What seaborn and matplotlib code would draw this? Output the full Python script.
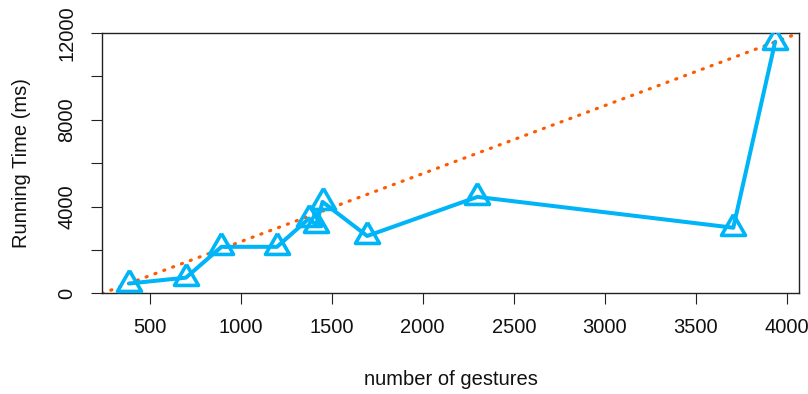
import matplotlib
matplotlib.use("Agg")
import matplotlib.pyplot as plt
import seaborn as sns
import pandas as pd

# Measured running time per gesture-set size
gestures = [389, 700, 895, 1200, 1375, 1415, 1450, 1695, 2300, 3705, 3935]
running_ms = [460, 730, 2150, 2150, 3450, 3150, 4220, 2650, 4450, 3030, 11600]

# Linear reference line spanning the plotted range
guide_x = [239, 4066]
guide_y = [0, 12000]

x_ticks = [500, 1000, 1500, 2000, 2500, 3000, 3500, 4000]
y_ticks = [0, 2000, 4000, 6000, 8000, 10000, 12000]
y_tick_labels = ["0", "", "4000", "", "8000", "", "12000"]

sns.set_theme(style="white")
plt.rcParams["font.family"] = ["Liberation Sans", "DejaVu Sans"]

df = pd.DataFrame({"gestures": gestures, "running_ms": running_ms})
guide = pd.DataFrame({"x": guide_x, "y": guide_y})

fig = plt.figure(figsize=(8.08, 3.94), dpi=100)
ax = fig.add_axes([0.1262, 0.2551, 0.8627, 0.6611])

# equilateral open triangle centred on its circumcentre
tri = [(0, 1), (0.866, -0.5), (-0.866, -0.5), (0, 1)]

sns.lineplot(data=guide, x="x", y="y", ax=ax, color="#ff5a00", lw=2.3,
             linestyle=(0, (0.35, 2.6)), dash_capstyle="round", zorder=2)
sns.lineplot(data=df, x="gestures", y="running_ms", ax=ax, color="#00b4f8",
             lw=2.9, marker=tri, markersize=20, markerfacecolor="none",
             markeredgecolor="#00b4f8", markeredgewidth=2.6, zorder=3,
             estimator=None, sort=False)

ax.set_xlim(guide_x[0], guide_x[1])
ax.set_ylim(guide_y[0], guide_y[1])
ax.set_xticks(x_ticks)
ax.set_xticklabels([str(v) for v in x_ticks])
ax.set_yticks(y_ticks)
ax.set_yticklabels(y_tick_labels, rotation=90, va="center")

for s in ax.spines.values():
    s.set_visible(True)
    s.set_color("#222222")
    s.set_linewidth(1.0)

ax.tick_params(axis="both", direction="out", length=8, width=0.8,
               color="#222222", labelsize=14.5, labelcolor="#111111")
ax.tick_params(axis="x", pad=9.5, bottom=True)
ax.tick_params(axis="y", pad=10.5, left=True)

ax.set_xlabel("number of gestures", fontsize=14.5, color="#111111")
ax.set_ylabel("Running Time (ms)", fontsize=14.5, color="#111111")
ax.xaxis.label.set_va("center")
ax.yaxis.label.set_va("center")
ax.xaxis.set_label_coords(0.5, -0.332)
ax.yaxis.set_label_coords(-0.116, 0.5)

fig.savefig("out.png", dpi=100)
